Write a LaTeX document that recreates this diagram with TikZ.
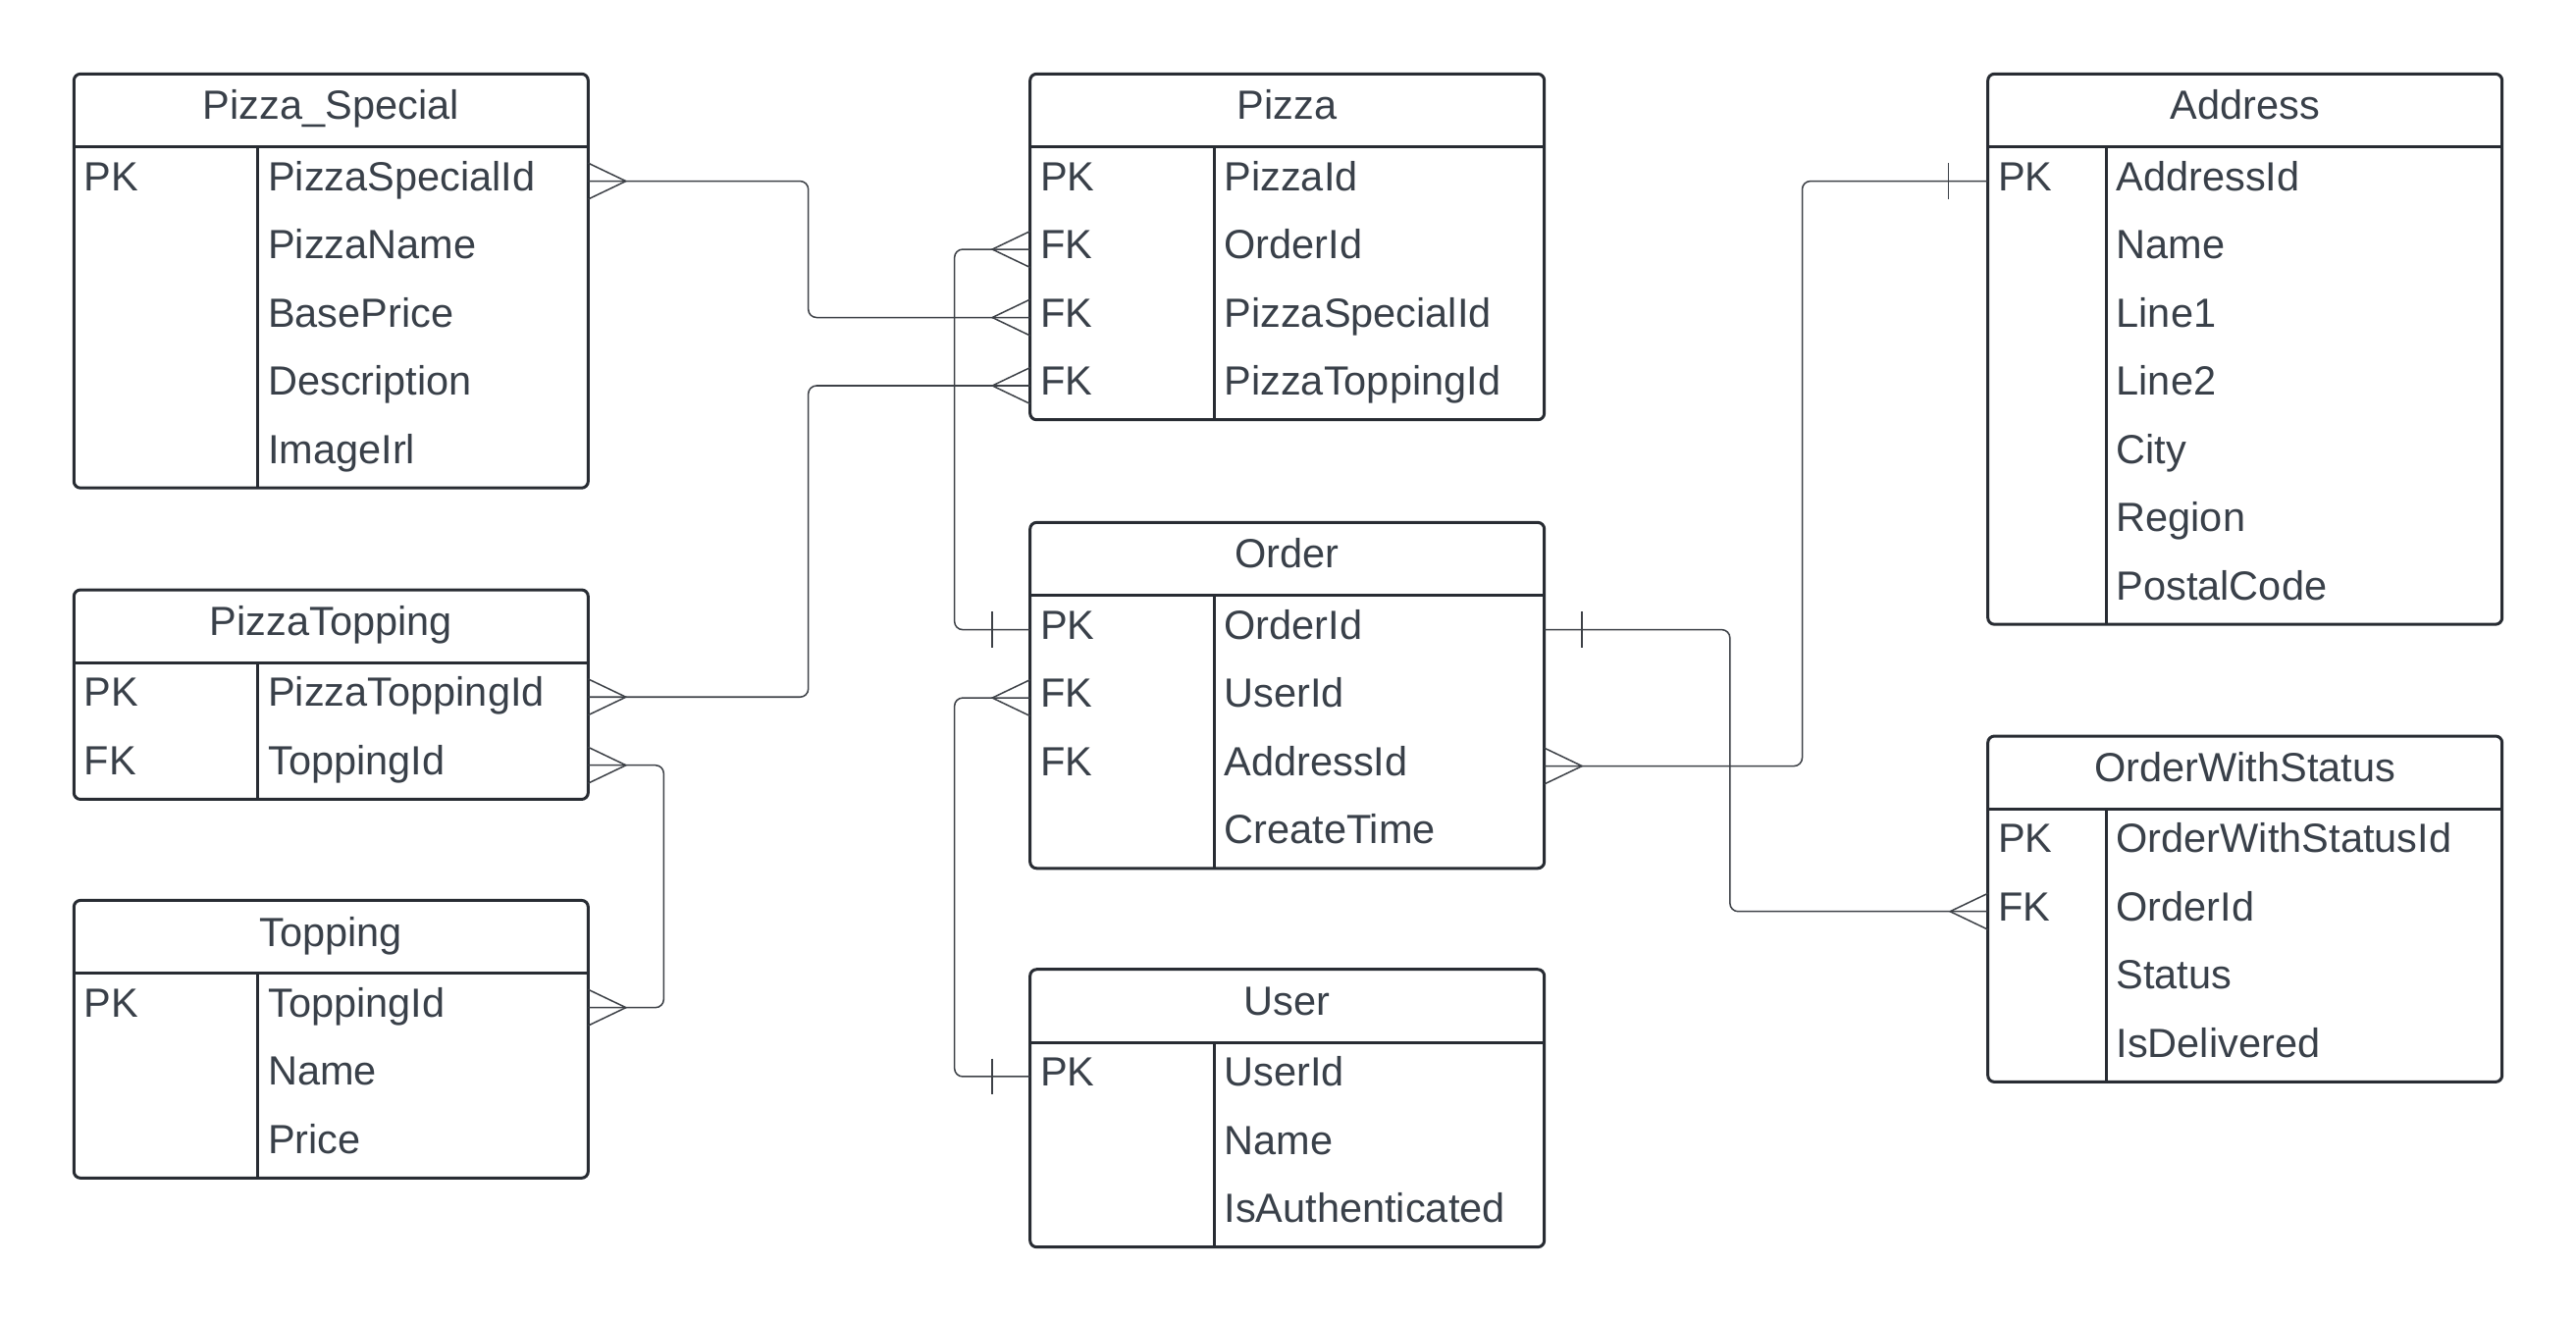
\documentclass[tikz,border=0pt]{standalone}
\usepackage{fontspec}
\setmainfont{Liberation Sans}
\usetikzlibrary{calc}

\definecolor{framec}{HTML}{282C33}
\definecolor{textc}{HTML}{394049}

\tikzset{
  headbox/.style={minimum width=313pt,minimum height=44.5pt,inner sep=0pt,outer sep=0pt},
  rowbox/.style={minimum width=313pt,minimum height=41.5pt,inner sep=0pt,outer sep=0pt},
  cell/.style={anchor=base west,inner sep=0pt,text=textc,font=\fontsize{24.8}{29}\selectfont},
  title/.style={anchor=base,inner sep=0pt,text=textc,font=\fontsize{24.8}{29}\selectfont},
  frame/.style={draw=framec,line width=1.8pt,rounded corners=4pt},
  link/.style={draw=framec!90!white,line width=0.9pt},
}

% name, left, top, key column width, title, key/field rows
\newcommand\erdtable[6]{%
  \node[headbox] (#1) at ({#2+156.5},{#3+22.25}) {};
  \node[title] at ([yshift=-5.6pt]#1.center) {#5};
  \foreach \k/\f [count=\i] in {#6}{%
    \node[rowbox] (#1-\i) at ({#2+156.5},{#3+44.5+41.5*\i-20.75}) {};
    \node[cell] at ([xshift=6pt,yshift=-5.8pt]#1-\i.west) {\k};
    \node[cell] at ([xshift=#4pt+6pt,yshift=-5.8pt]#1-\i.west) {\f};
    \xdef\lastrow{\i}%
  }
  \draw[frame] (#1.north west) rectangle (#1-\lastrow.south east);
  \draw[frame] (#1.south west) -- (#1.south east);
  \draw[frame] ([xshift=#4pt]#1.south west) -- ([xshift=#4pt]#1-\lastrow.south west);
}
% crow's foot (many) and bar (one) at a table edge
\newcommand\many[2]{\draw[link] (#1) ++(0,-11) -- ++(#2,11) -- ++(-#2,11);}
\newcommand\one[2]{\draw[link] (#1) ++(#2,-11) -- ++(0,22);}

\begin{document}
\begin{tikzpicture}[x=1pt,y=-1pt]
      \useasboundingbox (0,0) rectangle (1568,803);

      \erdtable{special}{45}{45}{112}{Pizza\_Special}{PK/PizzaSpecialId,{}/PizzaName,{}/BasePrice,{}/Description,{}/ImageIrl}
      \erdtable{pizza}{627}{45}{112}{Pizza}{PK/PizzaId,FK/OrderId,FK/PizzaSpecialId,FK/PizzaToppingId}
      \erdtable{address}{1210}{45}{72}{Address}{PK/AddressId,{}/Name,{}/Line1,{}/Line2,{}/City,{}/Region,{}/PostalCode}
      \erdtable{order}{627}{318}{112}{Order}{PK/OrderId,FK/UserId,FK/AddressId,{}/CreateTime}
      \erdtable{ptopping}{45}{359}{112}{PizzaTopping}{PK/PizzaToppingId,FK/ToppingId}
      \erdtable{topping}{45}{548}{112}{Topping}{PK/ToppingId,{}/Name,{}/Price}
      \erdtable{user}{627}{590}{112}{User}{PK/UserId,{}/Name,{}/IsAuthenticated}
      \erdtable{status}{1210}{448}{72}{OrderWithStatus}{PK/OrderWithStatusId,FK/OrderId,{}/Status,{}/IsDelivered}

      \draw[link,rounded corners=5pt] (special-1.east) -- ++(134,0) |- (pizza-3.west);
      \draw[link,rounded corners=5pt] (pizza-2.west) -- ++(-46,0) |- (order-1.west);
      \draw[link,rounded corners=5pt] (pizza-4.west) -- ++(-135,0) |- (ptopping-1.east);
      \draw[link,rounded corners=5pt] (ptopping-2.east) -- ++(46,0) |- (topping-1.east);
      \draw[link,rounded corners=5pt] (order-2.west) -- ++(-46,0) |- (user-1.west);
      \draw[link,rounded corners=5pt] (order-3.east) -- ++(157,0) |- (address-1.west);
      \draw[link,rounded corners=5pt] (order-1.east) -- ++(113,0) |- (status-2.west);

      \many{special-1.east}{23}
      \many{pizza-3.west}{-23}
      \many{pizza-2.west}{-23}
      \one{order-1.west}{-23}
      \many{pizza-4.west}{-23}
      \many{ptopping-1.east}{23}
      \many{ptopping-2.east}{23}
      \many{topping-1.east}{23}
      \many{order-2.west}{-23}
      \one{user-1.west}{-23}
      \many{order-3.east}{23}
      \one{address-1.west}{-24}
      \one{order-1.east}{23}
      \many{status-2.west}{-23}
\end{tikzpicture}
\end{document}
